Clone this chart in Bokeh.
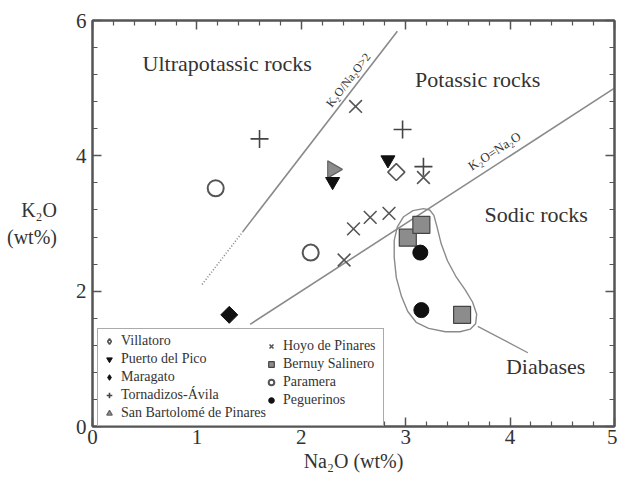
import numpy as np
from bokeh.plotting import figure
from bokeh.models import Range1d, LinearAxis, FixedTicker, Label, Legend, LegendItem
from bokeh.embed import file_html
from bokeh.resources import INLINE

# ---------------- data (Na2O, K2O in wt%) ----------------
villatoro_na = [2.91]
villatoro_k = [3.76]
puerto_na = [2.83, 2.30]
puerto_k = [3.94, 3.62]
maragato_na = [1.31]
maragato_k = [1.65]
tornadizos_na = [1.60, 2.97, 3.17]
tornadizos_k = [4.25, 4.39, 3.84]
sanbartolome_na = [2.30]
sanbartolome_k = [3.80]
hoyo_na = [2.52, 3.17, 2.50, 2.66, 2.84, 2.41]
hoyo_k = [4.73, 3.68, 2.92, 3.09, 3.15, 2.46]
bernuy_na = [3.02, 3.15, 3.54]
bernuy_k = [2.79, 2.98, 1.65]
paramera_na = [1.18, 2.09]
paramera_k = [3.52, 2.57]
peguerinos_na = [3.14, 3.15]
peguerinos_k = [2.57, 1.72]

# reference lines
ratio2_dot_na = [1.05, 1.44]
ratio2_dot_k = [2.10, 2.88]
ratio2_na = [1.44, 2.92]
ratio2_k = [2.88, 5.84]
ratio1_na = [1.51, 5.00]
ratio1_k = [1.51, 5.00]

# diabase field outline
diabase_na = [3.17, 3.23, 3.27, 3.30, 3.34, 3.40, 3.48, 3.57, 3.64, 3.68, 3.67, 3.62,
              3.52, 3.38, 3.22, 3.10, 3.02, 2.96, 2.91, 2.89, 2.89, 2.92, 2.98, 3.07, 3.17]
diabase_k = [3.22, 3.20, 3.12, 2.95, 2.70, 2.45, 2.22, 2.02, 1.84, 1.66, 1.52, 1.44,
             1.40, 1.40, 1.45, 1.54, 1.70, 1.92, 2.20, 2.50, 2.75, 2.95, 3.10, 3.19, 3.22]
leader_na = [3.69, 4.17]
leader_k = [1.48, 1.09]

x_ticks = [0, 1, 2, 3, 4, 5]
y_ticks = [0, 2, 4, 6]
x_minor = [0.2, 0.4, 0.6, 0.8, 1.2, 1.4, 1.6, 1.8, 2.2, 2.4, 2.6, 2.8,
           3.2, 3.4, 3.6, 3.8, 4.2, 4.4, 4.6, 4.8]
y_minor = [0.4, 0.8, 1.2, 1.6, 2.4, 2.8, 3.2, 3.6, 4.4, 4.8, 5.2, 5.6]

SERIF = "Liberation Serif"
AX = "#555555"
TXT = "#333333"

W, H = 617, 482
ML, MR, MT, MB = 92, 3, 20, 56

p = figure(width=W, height=H, x_range=Range1d(0, 5), y_range=Range1d(0, 6),
           output_backend="svg", toolbar_location=None,
           min_border_left=ML, min_border_right=MR, min_border_top=MT, min_border_bottom=MB,
           background_fill_color="white", border_fill_color="white")
p.grid.visible = False
p.outline_line_color = AX
p.outline_line_width = 2

def style_axis(ax, ticks, minor, show_labels):
    ax.ticker = FixedTicker(ticks=ticks, minor_ticks=minor)
    ax.axis_line_color = AX
    ax.axis_line_width = 2
    ax.major_tick_line_color = AX
    ax.minor_tick_line_color = AX
    ax.major_tick_line_width = 1.5
    ax.minor_tick_line_width = 1.2
    ax.major_tick_in = 9
    ax.major_tick_out = 0
    ax.minor_tick_in = 5
    ax.minor_tick_out = 0
    if show_labels:
        ax.major_label_text_font = SERIF
        ax.major_label_text_font_size = "21px"
        ax.major_label_text_color = TXT
    else:
        ax.major_label_text_font_size = "1px"
        ax.major_label_text_color = None
        ax.major_label_standoff = 0

style_axis(p.xaxis[0], x_ticks, x_minor, True)
style_axis(p.yaxis[0], y_ticks, y_minor, True)
p.xaxis[0].major_label_standoff = 3
p.yaxis[0].major_label_standoff = 6

# axis titles
p.xaxis[0].axis_label = "Na₂O (wt%)"
p.xaxis[0].axis_label_text_font = SERIF
p.xaxis[0].axis_label_text_font_style = "normal"
p.xaxis[0].axis_label_text_font_size = "20px"
p.xaxis[0].axis_label_text_color = TXT
p.xaxis[0].axis_label_standoff = 3

p.yaxis[0].axis_label = "K₂O\n(wt%)"
p.yaxis[0].axis_label_orientation = "horizontal"
p.yaxis[0].axis_label_text_font = SERIF
p.yaxis[0].axis_label_text_font_style = "normal"
p.yaxis[0].axis_label_text_font_size = "20px"
p.yaxis[0].axis_label_text_color = TXT
p.yaxis[0].axis_label_standoff = 16

top = LinearAxis()
style_axis(top, x_ticks, x_minor, False)
p.add_layout(top, "above")
right = LinearAxis()
style_axis(right, y_ticks, y_minor, False)
p.add_layout(right, "right")

# reference lines
LINE = "#8a8a8a"
p.line(ratio2_dot_na, ratio2_dot_k, line_color=LINE, line_width=1.6, line_dash="1 2")
p.line(ratio2_na, ratio2_k, line_color=LINE, line_width=1.6)
p.line(ratio1_na, ratio1_k, line_color=LINE, line_width=1.6)
p.line(diabase_na, diabase_k, line_color=LINE, line_width=1.4)
p.line(leader_na, leader_k, line_color=LINE, line_width=1.3)

# markers
vil_style = dict(fill_color="white", line_color="#555", line_width=1.6)
mar_style = dict(fill_color="#111", line_color="#111")
p.scatter(villatoro_na, villatoro_k, marker="square", angle=np.pi / 4, size=12, **vil_style)
r_hoyo = p.scatter(hoyo_na, hoyo_k, marker="x", size=18, line_color="#555", line_width=1.6)
r_torn = p.scatter(tornadizos_na, tornadizos_k, marker="cross", size=18, line_color="#444", line_width=1.6)
r_sb = p.scatter(sanbartolome_na, sanbartolome_k, marker="triangle", angle=-np.pi / 2, size=17,
                 fill_color="#8c8c8c", line_color="#666", line_width=1.2)
r_pp = p.scatter(puerto_na, puerto_k, marker="inverted_triangle", size=14,
                 fill_color="#111", line_color="#111")
p.scatter(maragato_na, maragato_k, marker="square", angle=np.pi / 4, size=12, **mar_style)
r_ber = p.scatter(bernuy_na, bernuy_k, marker="square", size=17,
                  fill_color="#8c8c8c", line_color="#444", line_width=1.2)
r_par = p.scatter(paramera_na, paramera_k, marker="circle", size=16,
                  fill_color=None, line_color="#555", line_width=2)
r_peg = p.scatter(peguerinos_na, peguerinos_k, marker="circle", size=15,
                  fill_color="#111", line_color="#111")
# legend-only diamond glyphs (legend glyphs are drawn without rotation);
# a single NaN point so nothing is drawn inside the frame
r_vil = p.scatter([np.nan], [np.nan], marker="diamond", size=13, **vil_style)
r_mar = p.scatter([np.nan], [np.nan], marker="diamond", size=13, **mar_style)

# legends (two columns inside one box)
LH, SP, PAD = 16, 2, 4
common = dict(label_text_font=SERIF, label_text_font_size="14px", label_text_color=TXT,
              label_height=LH, glyph_height=14, glyph_width=14, label_standoff=5,
              spacing=SP, padding=PAD, margin=0)
leg1 = Legend(items=[LegendItem(label="Villatoro", renderers=[r_vil]),
                     LegendItem(label="Puerto del Pico", renderers=[r_pp]),
                     LegendItem(label="Maragato", renderers=[r_mar]),
                     LegendItem(label="Tornadizos-Ávila", renderers=[r_torn]),
                     LegendItem(label="San Bartolomé de Pinares", renderers=[r_sb])],
              location=(5, 0), label_width=258,
              border_line_color=AX, border_line_width=1.5,
              background_fill_color="white", background_fill_alpha=1.0, **common)
leg2 = Legend(items=[LegendItem(label="Hoyo de Pinares", renderers=[r_hoyo]),
                     LegendItem(label="Bernuy Salinero", renderers=[r_ber]),
                     LegendItem(label="Paramera", renderers=[r_par]),
                     LegendItem(label="Peguerinos", renderers=[r_peg])],
              location=(172, LH + SP),
              border_line_color=None, background_fill_alpha=0.0, **common)
p.add_layout(leg1, "center")
p.add_layout(leg2, "center")

# angles of the ratio lines on screen
fw = W - ML - MR
fh = H - MT - MB
a2 = np.arctan(2 * (fh / 6) / (fw / 5))
a1 = np.arctan(1 * (fh / 6) / (fw / 5))

def lab(x, y, text, size, align="center", baseline="middle", angle=0.0, color=TXT):
    p.add_layout(Label(x=x, y=y, text=text, text_font=SERIF, text_font_size=size,
                       text_align=align, text_baseline=baseline, angle=angle,
                       text_color=color))

lab(1.29, 5.37, "Ultrapotassic rocks", "22px")
lab(3.69, 5.13, "Potassic rocks", "22px")
lab(4.25, 3.13, "Sodic rocks", "22px")
lab(3.96, 0.89, "Diabases", "22px", align="left")
lab(2.45, 5.12, "K₂O/Na₂O>2", "12px", angle=a2)
lab(3.85, 4.07, "K₂O=Na₂O", "13px", angle=a1)

open("out.html", "w").write(file_html(p, INLINE))
